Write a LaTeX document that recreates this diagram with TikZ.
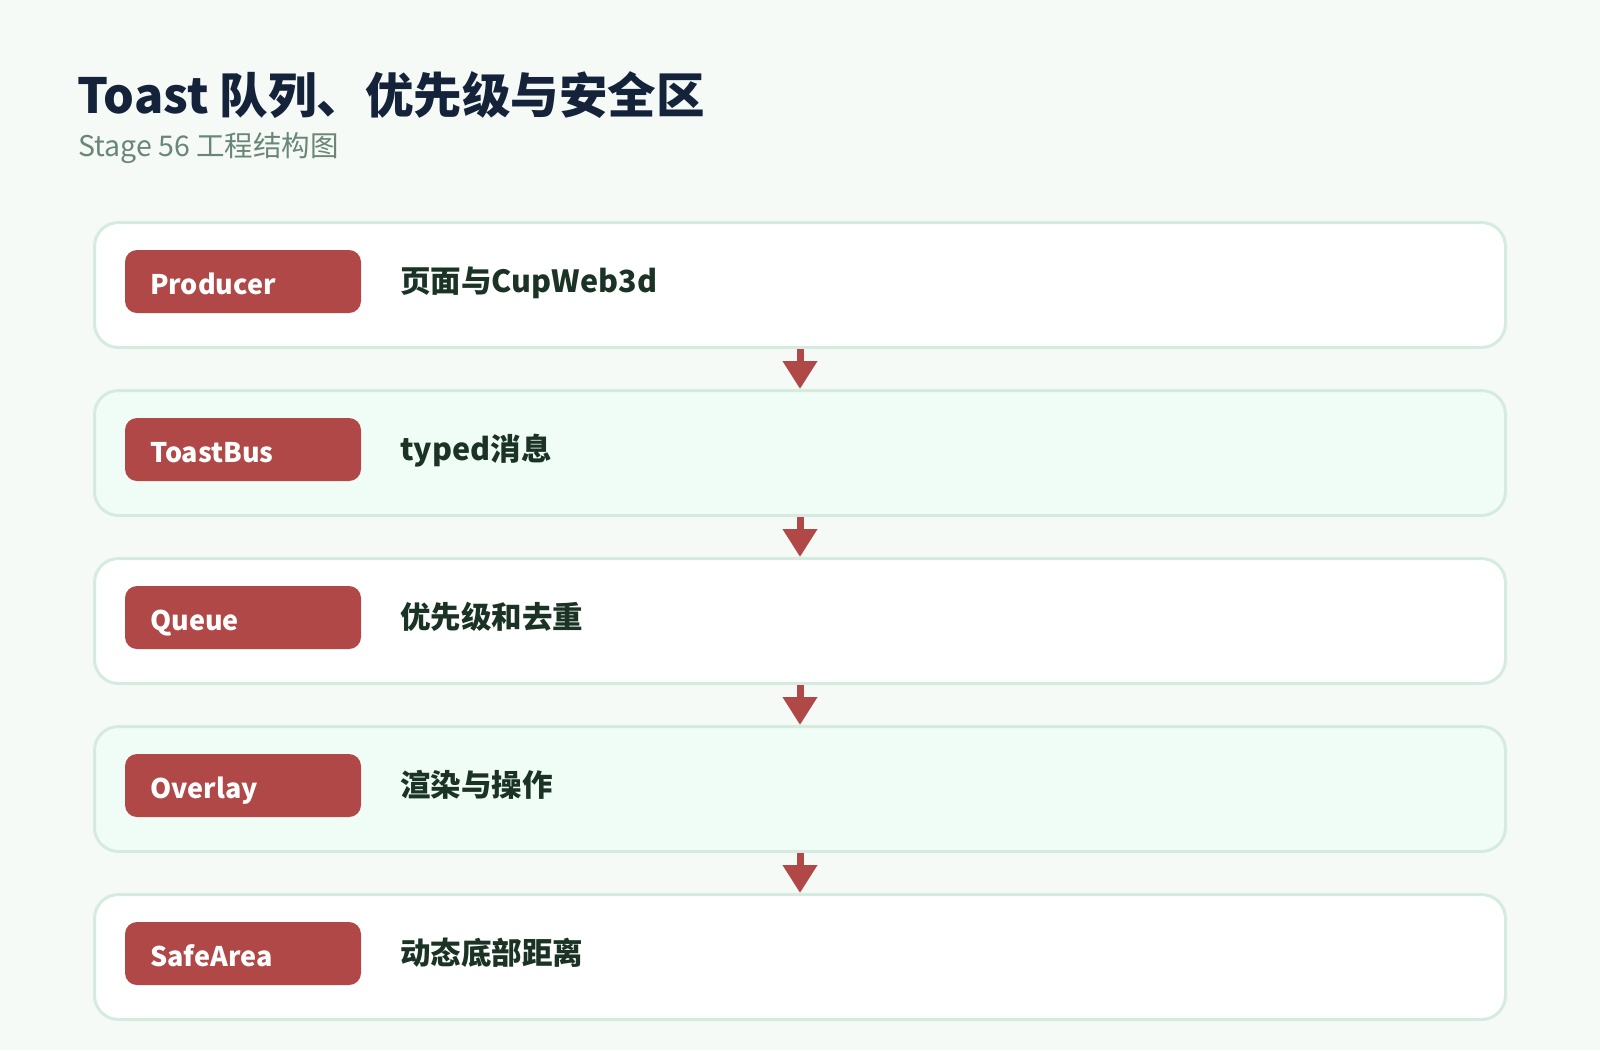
\documentclass[tikz,border=0pt]{standalone}
\usepackage{fontspec}
\setmainfont{Noto Sans CJK SC}
\usetikzlibrary{arrows.meta}
\definecolor{bgcol}{HTML}{F5FAF7}
\definecolor{boxline}{HTML}{D5EBDF}
\definecolor{boxalt}{HTML}{F0FDF6}
\definecolor{tagred}{HTML}{B04848}
\definecolor{titlecol}{HTML}{14233A}
\definecolor{subcol}{HTML}{6A8677}
\definecolor{desccol}{HTML}{1B3325}
\tikzset{
 layerbox/.style={draw=boxline, line width=3pt, rounded corners=24pt, minimum width=1411pt, minimum height=125pt, inner sep=0pt},
 tagbox/.style={fill=tagred, rounded corners=12pt, minimum width=236pt, minimum height=63pt, inner sep=0pt},
 tagtext/.style={anchor=base west, inner sep=0pt, text=white, font=\bfseries\fontsize{27}{33}\selectfont},
 desctext/.style={anchor=base west, inner sep=0pt, text=desccol, font=\bfseries\fontsize{30.5}{36}\selectfont},
 flow/.style={draw=tagred, line width=7pt, -{Triangle[width=33pt,length=28pt]}},
}
\newcommand{\layer}[5]{%
 \node (#1) [layerbox, fill=#5] at (800,{285+168*#2}) {};%
 \node (#1tag) [tagbox] at (243,{281.5+168*#2}) {};%
 \node (#1name) [tagtext] at (150,{294+168*#2}) {#3};%
 \node (#1desc) [desctext] at (400,{292+168*#2}) {#4};%
}
\begin{document}
\begin{tikzpicture}[x=1pt, y=-1pt]
  \fill[bgcol] (0,0) rectangle (1600,1050);
  \useasboundingbox (0,0) rectangle (1600,1050);
  \node (title) [anchor=base west, inner sep=0pt, text=titlecol, font=\bfseries\fontsize{48.5}{58}\selectfont] at (77,113) {Toast 队列、优先级与安全区};
  \node (subtitle) [anchor=base west, inner sep=0pt, text=subcol, font=\fontsize{28.5}{34}\selectfont] at (78,156) {Stage 56 工程结构图};
  \layer{prod}{0}{Producer}{页面与CupWeb3d}{white}
  \layer{bus}{1}{ToastBus}{typed消息}{boxalt}
  \layer{queue}{2}{Queue}{优先级和去重}{white}
  \layer{overlay}{3}{Overlay}{渲染与操作}{boxalt}
  \layer{safe}{4}{SafeArea}{动态底部距离}{white}
  \foreach \a/\b in {prod/bus, bus/queue, queue/overlay, overlay/safe}
    \draw[flow] (\a.south) -- (\b.north);
\end{tikzpicture}
\end{document}
